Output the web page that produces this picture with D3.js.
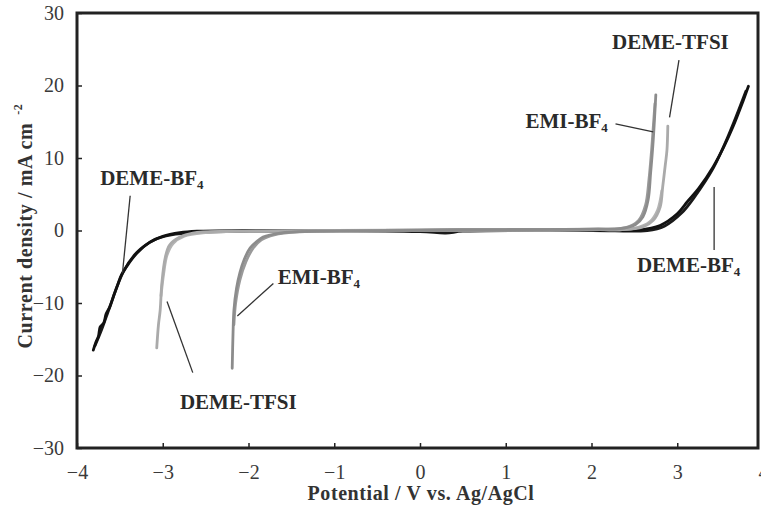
<!DOCTYPE html>
<html>
<head>
<meta charset="utf-8">
<script src="https://cdn.jsdelivr.net/npm/d3@7"></script>
<style>
  body { margin: 0; background: #fff; }
  svg { display: block; font-family: "Liberation Serif", "Times New Roman", serif; }
</style>
</head>
<body>
<svg id="chart"></svg>
<script>
// potential (V vs Ag/AgCl), current density (mA cm-2)
var demeBF4Scan1 = [[-3.81,-16.5],[-3.78,-15.4],[-3.75,-14.6],[-3.73,-13.3],[-3.69,-12.8],[-3.66,-11.5],[-3.62,-10.6],[-3.57,-8.9],[-3.52,-7.3],[-3.48,-6.1],[-3.40,-4.6],[-3.30,-3.1],[-3.15,-1.6],[-3.00,-0.8],[-2.80,-0.3],[-2.60,-0.1],[-2.0,0],[-1.0,0],[0,0.05],[1,0.1],[2,0.1],[2.55,0.1],[2.8,0.7],[3.0,2.3],[3.12,4.0],[3.25,5.8],[3.42,8.8],[3.55,11.7],[3.65,14.3],[3.75,17.3],[3.83,19.9]];
var demeBF4Scan2 = [[-3.79,-15.9],[-3.71,-13.6],[-3.61,-10.3],[-3.46,-5.7],[-3.3,-3.0],[-3.1,-1.3],[-2.9,-0.6],[-2.6,-0.25],[-2.0,-0.1],[0,-0.15],[0.3,-0.35],[0.5,-0.1],[2,0],[2.65,0],[2.85,0.6],[3.05,2.4],[3.2,4.6],[3.42,8.6],[3.6,13.2],[3.8,19.2]];
var emiBF4Scan1 = [[-2.19,-19],[-2.18,-14],[-2.17,-11],[-2.14,-8],[-2.10,-5.8],[-2.05,-4.0],[-1.98,-2.4],[-1.90,-1.5],[-1.83,-0.9],[-1.63,-0.35],[-1.2,-0.1],[0,0],[1,0.1],[2,0.2],[2.33,0.25],[2.51,0.8],[2.60,1.9],[2.66,4.2],[2.69,8],[2.72,12.5],[2.75,18.7]];
var emiBF4Scan2 = [[-2.17,-13],[-2.15,-10],[-2.10,-6.8],[-2.03,-4.3],[-1.95,-2.5],[-1.85,-1.3],[-1.7,-0.6],[-1.4,-0.2],[0,0],[2,0.2],[2.4,0.4],[2.55,1.4],[2.63,3.5],[2.67,7],[2.70,11],[2.74,17.5]];
var demeTFSIScan1 = [[-3.07,-16.2],[-3.05,-13],[-3.03,-11],[-3.01,-7.2],[-2.97,-3.7],[-2.92,-2.0],[-2.80,-0.9],[-2.65,-0.35],[-2.2,-0.1],[-1,0],[0,0.05],[1,0.1],[2,0.15],[2.33,0.1],[2.60,0.5],[2.72,1.4],[2.80,3.2],[2.83,6],[2.86,9],[2.88,11.1],[2.89,14.4]];
var demeTFSIScan2 = [[-3.02,-9],[-2.99,-6],[-2.95,-3.4],[-2.88,-1.8],[-2.75,-0.8],[-2.5,-0.3],[-2,-0.1],[0,0],[2,0.1],[2.5,0.3],[2.68,1.2],[2.77,2.8],[2.82,5.5]];

var xTicks = [-4,-3,-2,-1,0,1,2,3,4];
var yTicks = [-30,-20,-10,0,10,20,30];

// label text, position in data units, and leader line ends in data units
var labels = [
  {name: "DEME-BF", sub: "4", at: [-3.73, 6.3], line: [[-3.38, 4.8], [-3.47, -5.9]]},
  {name: "EMI-BF", sub: "4", at: [-1.66, -7.4], line: [[-1.71, -7.3], [-2.13, -11.8]]},
  {name: "DEME-TFSI", sub: "", at: [-2.8, -24.6], line: [[-2.95, -9.8], [-2.65, -19.6]]},
  {name: "DEME-TFSI", sub: "", at: [2.24, 25.0], line: [[3.02, 23.5], [2.91, 15.6]]},
  {name: "EMI-BF", sub: "4", at: [1.23, 14.1], line: [[2.28, 14.7], [2.72, 13.6]]},
  {name: "DEME-BF", sub: "4", at: [2.53, -5.7], line: [[3.43, 6.0], [3.43, -2.7]]}
];

var width = 761, height = 508;
var frame = {left: 77, right: 758, top: 13, bottom: 448};

var svg = d3.select("#chart")
  .attr("width", width)
  .attr("height", height);

var x = d3.scaleLinear().domain([-4, 4]).range([frame.left, 763]);
var y = d3.scaleLinear().domain([-30, 30]).range([frame.bottom, frame.top]);

var line = d3.line()
  .x(function(d) { return x(d[0]); })
  .y(function(d) { return y(d[1]); })
  .curve(d3.curveCatmullRom.alpha(0.5));

var traces = [
  {data: demeBF4Scan2, color: "#1a1a1a"},
  {data: demeBF4Scan1, color: "#111"},
  {data: demeTFSIScan2, color: "#b4b4b4"},
  {data: demeTFSIScan1, color: "#aaaaaa"},
  {data: emiBF4Scan2, color: "#9a9a9a"},
  {data: emiBF4Scan1, color: "#8c8c8c"}
];

svg.append("g").selectAll("path")
  .data(traces)
  .enter().append("path")
  .attr("d", function(t) { return line(t.data); })
  .attr("fill", "none")
  .attr("stroke", function(t) { return t.color; })
  .attr("stroke-width", 2.8)
  .attr("stroke-linejoin", "round")
  .attr("stroke-linecap", "round");

// axes with inward ticks
var xAxis = d3.axisBottom(x).tickValues(xTicks).tickSizeInner(-5).tickSizeOuter(0).tickPadding(17);
var gx = svg.append("g").attr("transform", "translate(0," + frame.bottom + ")").call(xAxis);

var yAxis = d3.axisLeft(y).tickValues(yTicks).tickSizeInner(-5).tickSizeOuter(0).tickPadding(13);
var gy = svg.append("g").attr("transform", "translate(" + frame.left + ",0)").call(yAxis);

[gx, gy].forEach(function(g) {
  g.select(".domain").remove();
  g.selectAll(".tick line").attr("stroke", "#222").attr("stroke-width", 1.5);
  g.selectAll(".tick text")
    .attr("fill", "#3a3a3a")
    .style("font-family", "'Liberation Serif', serif")
    .style("font-size", "20px");
});

svg.append("rect")
  .attr("x", frame.left)
  .attr("y", frame.top)
  .attr("width", frame.right - frame.left)
  .attr("height", frame.bottom - frame.top)
  .attr("fill", "none")
  .attr("stroke", "#222")
  .attr("stroke-width", 3);

// axis titles
svg.append("text")
  .attr("x", 421)
  .attr("y", 500)
  .attr("text-anchor", "middle")
  .style("font-size", "20px")
  .style("letter-spacing", "0.6px")
  .style("font-weight", "bold")
  .attr("fill", "#333")
  .text("Potential / V vs. Ag/AgCl");

var ytitle = svg.append("text")
  .attr("transform", "translate(32,226) rotate(-90)")
  .attr("text-anchor", "middle")
  .style("font-size", "20px")
  .style("letter-spacing", "0.6px")
  .style("font-weight", "bold")
  .attr("fill", "#333");
ytitle.append("tspan").text("Current density / mA cm");
ytitle.append("tspan").attr("dx", 8).attr("dy", -10).style("font-size", "12px").text("-2");

// curve labels with leader lines
var lab = svg.append("g");
labels.forEach(function(l) {
  lab.append("line")
    .attr("x1", x(l.line[0][0])).attr("y1", y(l.line[0][1]))
    .attr("x2", x(l.line[1][0])).attr("y2", y(l.line[1][1]))
    .attr("stroke", "#333")
    .attr("stroke-width", 1.3);
  var t = lab.append("text")
    .attr("x", x(l.at[0]))
    .attr("y", y(l.at[1]))
    .style("font-size", "21px")
    .style("font-weight", "bold")
    .attr("fill", "#2a2a2a");
  t.append("tspan").text(l.name);
  if (l.sub) {
    t.append("tspan").attr("dy", 4).style("font-size", "13px").text(l.sub);
  }
});
</script>
</body>
</html>
